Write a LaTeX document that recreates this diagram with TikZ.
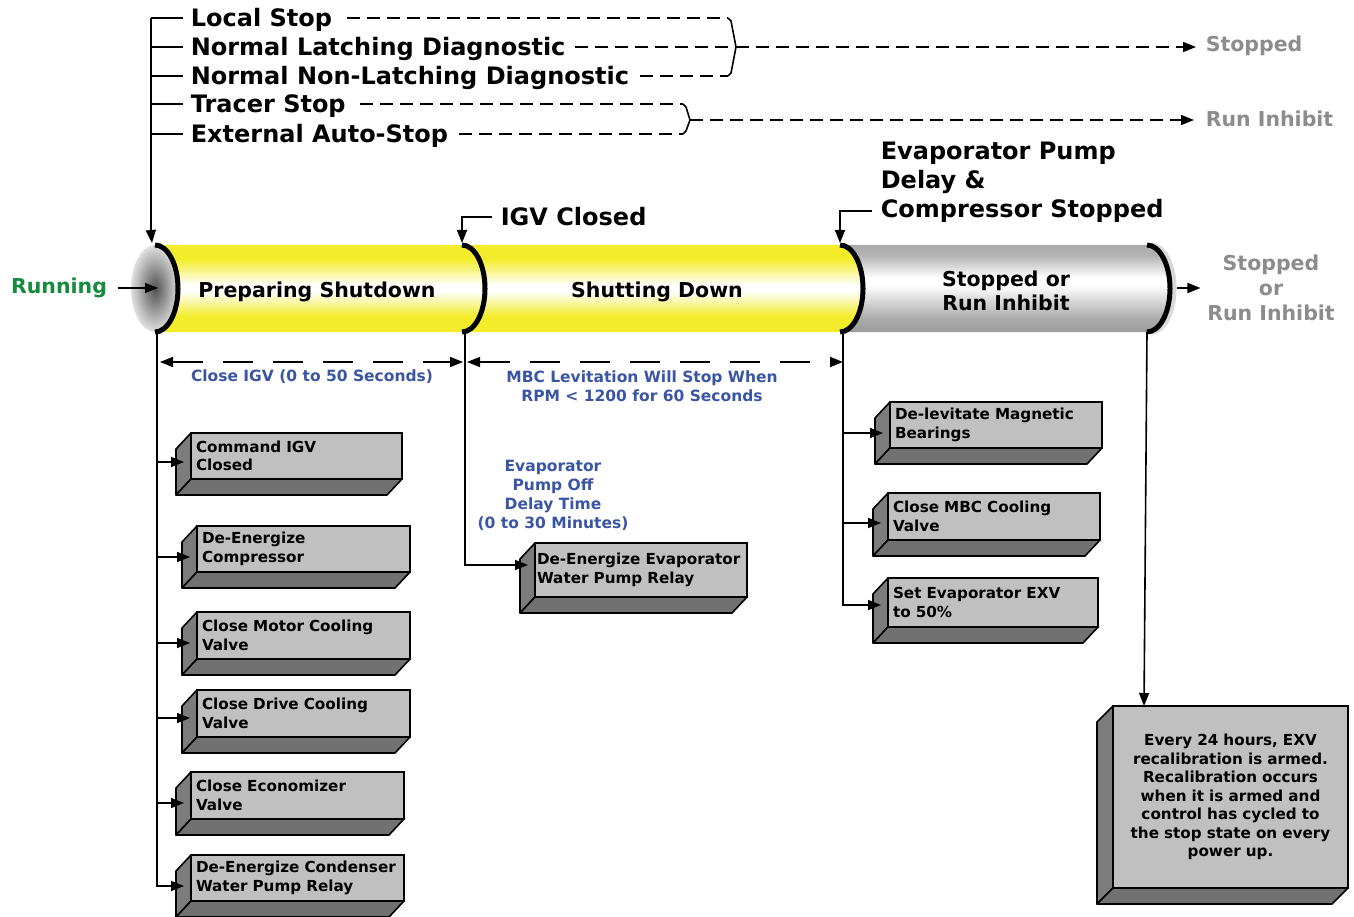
\documentclass[tikz,border=0pt]{standalone}
\usepackage{fontspec}
\setmainfont{DejaVu Sans}
\usetikzlibrary{arrows.meta,calc}
\definecolor{cylyellow}{HTML}{F2EC2A}
\definecolor{frontgray}{HTML}{C0C0C0}
\definecolor{sidegray}{HTML}{7C7C7C}
\definecolor{botgray}{HTML}{717171}
\definecolor{runblue}{HTML}{3A55A4}
\definecolor{rungreen}{HTML}{178A3E}
\definecolor{stategray}{HTML}{8C8C8C}
\definecolor{cgA}{HTML}{9C9C9C}
\definecolor{cgB}{HTML}{AAAAAA}
\definecolor{cgC}{HTML}{B4B4B4}
\pgfdeclareverticalshading{cylY}{100bp}{color(0bp)=(cylyellow); color(34bp)=(cylyellow); color(48.5bp)=(white); color(52bp)=(white); color(67bp)=(cylyellow); color(100bp)=(cylyellow)}
\pgfdeclareverticalshading{cylG}{100bp}{color(0bp)=(cgA); color(25bp)=(cgA); color(32.5bp)=(cgB); color(52bp)=(white); color(56bp)=(white); color(69bp)=(cgC); color(75bp)=(cgB); color(100bp)=(cgB)}
\newcommand\fs[2]{\fontsize{#1}{#2}\selectfont\bfseries}
% segment body between two right-bulging ellipse halves
\newcommand\cylseg[3]{%
  \shade[shading=#3] (#1,245) -- (#2,245) .. controls ({#2+12.7},245) and ({#2+23},264.5) .. ({#2+23},288.5) .. controls ({#2+23},312.5) and ({#2+12.7},332) .. (#2,332) -- (#1,332) .. controls ({#1+12.7},332) and ({#1+23},312.5) .. ({#1+23},288.5) .. controls ({#1+23},264.5) and ({#1+12.7},245) .. (#1,245) -- cycle;}
\newcommand\cylrim[2]{%
  \draw[rimline,#2] (#1,245) .. controls ({#1+12.7},245) and ({#1+23},264.5) .. ({#1+23},288.5) .. controls ({#1+23},312.5) and ({#1+12.7},332) .. (#1,332);}
% 3D box: style, name, x, y, height, text width, arrow y offset, text
\newcommand\tdbox[8]{%
  \node[frontbox,minimum height=#5pt,text width=#6pt,#1] (#2) at (#3,#4) {#8};
  \filldraw[face,fill=sidegray] ($(#2.north west)+(-15,16)$) -- (#2.north west) -- (#2.south west) -- ($(#2.south west)+(-15,16)$) -- cycle;
  \filldraw[face,fill=botgray] (#2.south west) -- (#2.south east) -- ($(#2.south east)+(-15,16)$) -- ($(#2.south west)+(-15,16)$) -- cycle;
  \coordinate (#2-in) at ($(#2.north west)+(-7,#7)$);}
\begin{document}
\begin{tikzpicture}[x=1pt,y=-1pt,line width=1.6pt,
  >={Triangle[length=13pt,width=10pt]},
  toplbl/.style={anchor=west,inner sep=0pt,text height=17.5pt,text depth=0pt,font=\fs{24}{29}},
  cyllbl/.style={inner sep=0pt,font=\fs{20.5}{24}},
  grylbl/.style={font=\fs{20.5}{25},text=stategray,inner sep=0pt},
  bluelbl/.style={font=\fs{15.5}{18.5},text=runblue,align=center,inner sep=0pt},
  tdash/.style={dash pattern=on 13pt off 7pt},
  ddash/.style={dash pattern=on 30pt off 20pt},
  frontbox/.style={draw,fill=frontgray,anchor=north west,outer sep=0pt,inner xsep=5pt,inner ysep=0pt,align=left,font=\fs{15.2}{18.5},
    execute at begin node={\hyphenpenalty=10000\exhyphenpenalty=10000\hbadness=10000\hfuzz=40pt}},
  face/.style={draw,line join=round},
  rimline/.style={line width=5pt},
]
\useasboundingbox (0,0) rectangle (1354,917);

% ---------- top condition labels ----------
\node[toplbl] (ls) at (190,18) {Local Stop};
\node[toplbl] (nl) at (190,47) {Normal Latching Diagnostic};
\node[toplbl] (nn) at (190,76) {Normal Non-Latching Diagnostic};
\node[toplbl] (ts) at (190,104) {Tracer Stop};
\node[toplbl] (ea) at (190,134) {External Auto-Stop};
\node[grylbl,anchor=west] (stp) at (1205,46) {Stopped};
\node[grylbl,anchor=west] (rin) at (1205,119) {Run Inhibit};

\coordinate (trT) at (151,18);
\coordinate (cylL) at (152,243);
\draw[->] (trT) -- (151,232) -- (cylL);
\foreach \n in {ls,nl,nn,ts,ea}{\draw (trT |- \n) -- ($(\n.west)+(-7,0)$);}

% bracket 1
\coordinate (b1t) at (728,18);
\coordinate (b1m) at (736,47);
\coordinate (b1b) at (728,76);
\draw[tdash] ($(ls.east)+(14,0)$) -- (b1t);
\draw[tdash] ($(nl.east)+(9,0)$) -- (b1m);
\draw[tdash] ($(nn.east)+(10,0)$) -- (b1b);
\draw (b1t) -- (731,21) -- (b1m) -- (731,73) -- (b1b);
\draw[tdash,->] (b1m) -- ($(stp.west)+(-9,1)$);
% bracket 2
\coordinate (b2t) at (683,104);
\coordinate (b2m) at (690,120);
\coordinate (b2b) at (683,134);
\draw[tdash] ($(ts.east)+(14,0)$) -- (b2t);
\draw[tdash] ($(ea.east)+(10,0)$) -- (b2b);
\draw (b2t) -- (686,107) -- (b2m) -- (686,131) -- (b2b);
\draw[tdash,->] (b2m) -- ($(rin.west)+(-11,1)$);

% ---------- cylinder ----------
\shade[inner color=black!68,outer color=black!12] (155,288.5) ellipse [x radius=24pt,y radius=43.5pt];
\cylseg{155}{462}{cylY}
\cylseg{462}{840}{cylY}
\cylseg{840}{1147}{cylG}
\cylrim{1151}{black!15}
\cylrim{155}{}
\cylrim{462}{}
\cylrim{840}{}
\cylrim{1147}{}

\node[cyllbl] (ps) at (317,292) {Preparing Shutdown};
\node[cyllbl] (sd) at (657,292) {Shutting Down};
\node[cyllbl,align=center] (sr) at (1006,291) {Stopped or\\Run Inhibit};
\node[font=\fs{20.5}{24},text=rungreen,inner sep=0pt] (run) at (59,288) {Running};
\draw[->] ($(run.east)+(10,0)$) -- (158,288);
\node[grylbl,align=center] (sri) at (1271,288) {Stopped\\or\\Run Inhibit};
\draw[->] (1177,288) -- ($(sri.west)+(-6,0)$);

% milestones above
\node[anchor=west,inner sep=0pt,font=\fs{24}{29}] (igv) at (500,217) {IGV Closed};
\draw[->] ($(igv.west)+(-8,0)$) -| (462,243);
\node[anchor=west,inner sep=0pt,align=left,font=\fs{24}{29}] (epd) at (880,182) {Evaporator Pump\\Delay \&\\Compressor Stopped};
\draw[->] (872,211) -| (840,243);

% ---------- trunks ----------
\coordinate (t1) at (157,332);
\coordinate (t2) at (465,332);
\coordinate (t3) at (843,332);
\coordinate (t4) at (1147,332);

\draw[ddash,<->] (160,362) -- (463,362);
\draw[ddash,<->] (467,362) -- (843,362);
\node[bluelbl] (cigv) at (312,377) {Close IGV (0 to 50 Seconds)};
\node[bluelbl] (mbc) at (642,386) {MBC Levitation Will Stop When\\RPM < 1200 for 60 Seconds};
\node[bluelbl,font=\fs{15.5}{19}] (epo) at (553,495) {Evaporator\\Pump Off\\Delay Time\\(0 to 30 Minutes)};

% ---------- boxes ----------
\tdbox{}{c1}{191}{433}{46}{201}{29}{Command IGV\\Closed}
\tdbox{}{c2}{197}{526}{46}{203}{31}{De-Energize\\Compressor}
\tdbox{}{c3}{197}{612}{47}{203}{31}{Close Motor Cooling\\Valve}
\tdbox{}{c4}{197}{690}{47}{203}{28}{Close Drive Cooling\\Valve}
\tdbox{}{c5}{191}{772}{47}{203}{31}{Close Economizer\\Valve}
\tdbox{}{c6}{191}{855}{46}{203}{31}{De-Energize Condenser\\Water Pump Relay}
\tdbox{inner xsep=2pt}{c7}{535}{543}{54}{208}{22}{\mbox{De-Energize Evaporator}\\Water Pump Relay}
\tdbox{}{c8}{890}{402}{46}{202}{31}{De-levitate Magnetic\\Bearings}
\tdbox{}{c9}{888}{493}{47}{202}{30}{Close MBC Cooling\\Valve}
\tdbox{}{c10}{888}{578}{49}{200}{27}{Set Evaporator EXV\\to 50\%}
\node[frontbox,align=center,minimum height=182pt,text width=225pt] (c11) at (1113,706) {Every 24 hours, EXV\\recalibration is armed.\\Recalibration occurs\\when it is armed and\\control has cycled to\\the stop state on every\\power up.};
\filldraw[face,fill=sidegray] ($(c11.north west)+(-16,16)$) -- (c11.north west) -- (c11.south west) -- ($(c11.south west)+(-16,16)$) -- cycle;
\filldraw[face,fill=botgray] (c11.south west) -- (c11.south east) -- ($(c11.south east)+(-16,16)$) -- ($(c11.south west)+(-16,16)$) -- cycle;

% ---------- connectors to boxes ----------
\draw[->] (t1) |- (c6-in);
\foreach \b in {c1,c2,c3,c4,c5}{\draw[->] (t1 |- \b-in) -- (\b-in);}
\draw[->] (t2) |- (c7-in);
\draw[->] (t3) |- (c10-in);
\foreach \b in {c8,c9}{\draw[->] (t3 |- \b-in) -- (\b-in);}
\draw[->] (t4) -- ($(c11.north west)+(31,0)$);
\end{tikzpicture}
\end{document}
